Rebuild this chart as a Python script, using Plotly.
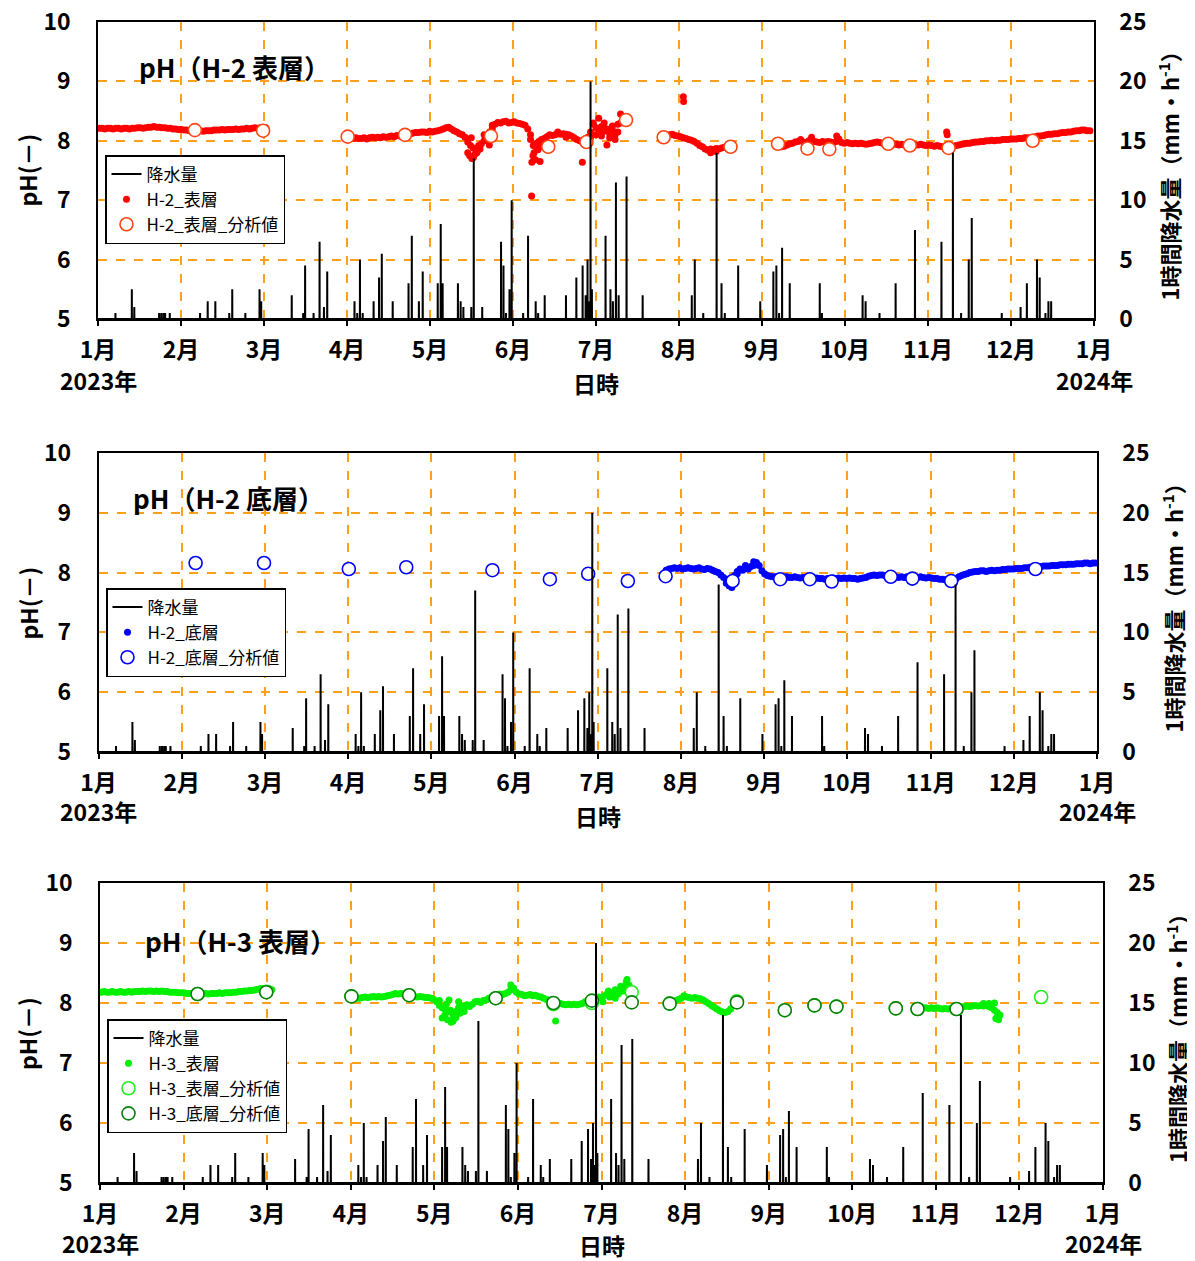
import pandas as pd
import plotly.graph_objects as go

# ------------------------------------------------------------------ data
YEAR_START = "2023-01-01"
MONTH_LABELS = ["1月", "2月", "3月", "4月", "5月", "6月", "7月", "8月", "9月", "10月", "11月", "12月", "1月"]

# hourly precipitation events (day of year, mm/h)
RAIN_DOY = [6.4, 12.4, 13.3, 22.4, 23.2, 24.0, 24.6, 26.3, 37.4, 40.2, 43.0, 48.1, 49.2, 54.0, 59.2, 59.8,
            71.0, 75.2, 75.9, 79.0, 81.2, 82.8, 84.0, 94.0, 95.0, 96.0, 97.0, 101.0, 103.0, 104.0, 108.0,
            113.8, 115.0, 117.6, 119.0, 124.5, 125.6, 126.3, 131.9, 132.9, 133.9, 136.8, 137.7, 140.8,
            147.7, 148.6, 149.5, 150.8, 151.6, 155.8, 157.6, 160.4, 161.3, 163.7, 171.5, 175.3, 177.6,
            178.7, 179.4, 180.1, 180.5, 181.0, 186.0, 187.8, 188.7, 189.8, 190.8, 193.7, 199.6, 217.6,
            218.7, 221.8, 226.7, 228.5, 229.7, 234.6, 242.7, 247.5, 248.6, 249.6, 250.7, 253.5, 264.5,
            265.3, 280.2, 281.3, 286.4, 292.3, 299.4, 309.1, 313.3, 316.3, 319.1, 320.2, 331.2, 338.1,
            340.4, 344.1, 345.1, 347.2, 348.3, 349.3]
RAIN_MM = [0.5, 2.5, 1.0, 0.5, 0.5, 0.5, 0.5, 0.5, 0.5, 1.5, 1.5, 0.5, 2.5, 0.5, 2.5, 1.5,
           2.0, 0.5, 4.5, 0.5, 6.5, 1.0, 4.0, 1.5, 0.5, 5.0, 0.5, 1.5, 3.5, 5.5, 1.5,
           3.0, 7.0, 1.5, 4.0, 3.0, 8.0, 3.0, 3.0, 1.5, 1.0, 1.0, 13.5, 1.0,
           6.5, 4.5, 0.5, 2.5, 10.0, 0.5, 7.0, 1.5, 0.5, 2.0, 2.0, 3.5, 4.5,
           2.0, 5.0, 1.5, 20.0, 2.5, 7.0, 2.5, 1.5, 11.5, 2.0, 12.0, 2.0, 2.0,
           5.0, 0.5, 14.0, 3.0, 0.5, 4.5, 1.5, 4.0, 4.5, 0.5, 6.0, 3.0, 3.0,
           0.5, 2.0, 1.5, 0.5, 3.0, 7.5, 6.5, 14.0, 0.5, 5.0, 8.5, 0.5, 1.0,
           3.0, 5.0, 3.5, 0.5, 1.5, 1.5]

# analysis (laboratory) sampling days, day of year
ANALYSIS_DOY = [35.5, 60.5, 91.5, 112.5, 144.0, 165.0, 179.0, 193.5, 207.3, 231.8, 249.2, 260.0,
                268.0, 289.6, 297.5, 311.7, 342.5]
H2_SURF_ANALYSIS = [8.18, 8.17, 8.07, 8.10, 8.08, 7.90, 7.98, 8.35, 8.06, 7.90, 7.95, 7.87, 7.86,
                    7.95, 7.92, 7.88, 8.00]
H2_BOTT_ANALYSIS = [8.16, 8.16, 8.06, 8.09, 8.04, 7.89, 7.98, 7.86, 7.94, 7.86, 7.89, 7.89, 7.85,
                    7.93, 7.90, 7.86, 8.06]
H3_SURF_ANALYSIS = [8.15, 8.18, 8.11, 8.13, 8.08, 7.98, 8.00, 8.18, 7.99, 8.03, 7.88, 7.96, 7.94,
                    7.91, 7.90, 7.90, 8.10]
H3_BOTT_ANALYSIS = [8.15, 8.18, 8.11, 8.13, 8.08, 8.00, 8.04, 8.01, 7.99, 8.01, 7.88, 7.96, 7.94,
                    7.91, 7.90, 7.90, None]

# continuous (daily) pH, H-2 surface
H2S_SEG1_START = 0
H2S_SEG1 = [8.21, 8.21, 8.20, 8.21, 8.21, 8.20, 8.21, 8.21, 8.20, 8.21,
            8.21, 8.20, 8.21, 8.21, 8.22, 8.22, 8.21, 8.22, 8.23, 8.23,
            8.24, 8.23, 8.23, 8.22, 8.22, 8.21, 8.21, 8.20, 8.20, 8.19,
            8.19, 8.18, 8.18, 8.17, 8.17, 8.17, 8.18, 8.17, 8.16, 8.17,
            8.17, 8.17, 8.18, 8.18, 8.18, 8.19, 8.18, 8.19, 8.19, 8.19,
            8.20, 8.19, 8.20, 8.20, 8.21, 8.20, 8.21, 8.22, 8.21, 8.22,
            8.22, 8.22]
H2S_SEG2_START = 91
H2S_SEG2 = [8.07, 8.06, 8.04, 8.05, 8.04, 8.04, 8.05, 8.03, 8.05, 8.06,
            8.05, 8.06, 8.05, 8.07, 8.06, 8.07, 8.08, 8.07, 8.09, 8.08,
            8.10, 8.11, 8.12, 8.12, 8.13, 8.14, 8.14, 8.15, 8.15, 8.14,
            8.16, 8.15, 8.16, 8.17, 8.18, 8.20, 8.22, 8.23, 8.20, 8.17,
            8.15, 8.12, 8.10, 8.06, 7.98, 7.92, 7.88, 7.85, 7.92, 7.95,
            8.00, 8.05, 8.15, 8.26, 8.28, 8.31, 8.30, 8.32, 8.33, 8.30,
            8.31, 8.32, 8.30, 8.29, 8.28, 8.26, 8.20, 8.10, 7.92, 7.95,
            7.99, 8.02, 8.04, 8.07, 8.10, 8.09, 8.10, 8.12, 8.11, 8.12,
            8.11, 8.10, 8.08, 8.05, 8.02, 8.00, 7.98, 8.02, 8.06, 8.15,
            8.28, 8.22, 8.18, 8.24, 8.16, 8.20, 8.12, 8.18, 8.10, 8.15,
            8.30, 8.40]
H2S_SEG3_START = 209
H2S_SEG3 = [8.10, 8.11, 8.09, 8.08, 8.07, 8.05, 8.04, 8.02, 8.01, 7.99, 7.96, 7.92,
            7.90, 7.86, 7.84, 7.86, 7.85, 7.87, 7.86, 7.88, 7.89, 7.90]
H2S_SEG4_START = 250
H2S_SEG4 = [7.90, 7.91, 7.93, 7.95, 7.96, 7.98, 7.99, 8.02, 7.98, 7.97,
            8.00, 8.06, 7.99, 7.98, 7.97, 7.99, 7.98, 7.99, 7.98, 7.97,
            7.99, 8.03, 7.97, 7.96, 7.97, 7.96, 7.95, 7.96, 7.95, 7.96,
            7.95, 7.94, 7.95, 7.96, 7.97, 7.98, 7.97, 7.96, 7.95, 7.96,
            7.95, 7.94, 7.94, 7.93, 7.94, 7.93, 7.94, 7.93, 7.94, 7.93,
            7.93, 7.94, 7.93, 7.92, 7.93, 7.92, 7.91, 7.92, 7.91, 7.90,
            7.90, 7.89, 7.90, 7.91, 7.92, 7.93, 7.94, 7.95, 7.96, 7.96,
            7.97, 7.98, 7.98, 7.99, 7.99, 8.00, 8.00, 8.01, 8.00, 8.01,
            8.01, 8.02, 8.02, 8.02, 8.03, 8.03, 8.03, 8.04, 8.04, 8.05,
            8.05, 8.05, 8.06, 8.07, 8.08, 8.08, 8.09, 8.10, 8.11, 8.11,
            8.12, 8.12, 8.13, 8.14, 8.14, 8.15, 8.15, 8.16, 8.17, 8.17,
            8.18, 8.18, 8.17, 8.17]
H2S_EXTRA_DOY = [135.5, 136.2, 137.0, 137.6, 138.3, 139.0, 136.8, 138.8, 140.0, 143.4, 159.0, 159.4,
                 159.8, 160.3, 161.2, 162.0, 162.6, 177.5, 158.9, 186.5, 183.5, 191.5, 214.5, 214.6,
                 311.0, 311.2, 270.7, 180.5, 181.5, 182.5, 184.5, 185.5, 187.5, 188.5, 189.5, 190.5,
                 141.5, 142.5, 144.5, 158.5, 160.8, 168.5, 171.5, 224.5, 226.5]
H2S_EXTRA = [7.80, 7.75, 7.70, 7.72, 7.78, 7.82, 8.05, 7.80, 7.86, 7.93, 7.64, 7.75,
             7.80, 7.68, 7.85, 7.65, 7.90, 7.64, 7.07, 7.93, 8.38, 8.45, 8.74, 8.66,
             8.15, 8.10, 8.08, 8.05, 8.30, 8.10, 8.08, 8.30, 8.05, 8.25, 8.02, 8.28,
             8.10, 8.02, 8.20, 8.02, 7.88, 8.15, 8.06, 7.80, 7.82]

# continuous (daily) pH, H-2 bottom
H2B_SEG1_START = 207
H2B_SEG1 = [8.04, 8.06, 8.07, 8.08, 8.07, 8.08, 8.06, 8.07, 8.08, 8.07,
            8.06, 8.07, 8.08, 8.06, 8.05, 8.07, 8.06, 8.04, 8.02, 8.00,
            7.96, 7.92, 7.88, 7.85, 7.87, 7.92, 8.02, 8.06, 8.04, 8.08,
            8.06, 8.10, 8.12, 8.17, 8.12, 8.03, 7.98, 7.95, 7.94, 7.93,
            7.93, 7.92, 7.93, 7.92, 7.93, 7.92, 7.92, 7.93, 7.92, 7.91,
            7.92, 7.91, 7.92, 7.91, 7.90, 7.91, 7.90, 7.90, 7.89, 7.90,
            7.90, 7.91, 7.90, 7.91, 7.90, 7.91, 7.90, 7.91, 7.90, 7.90,
            7.89, 7.90, 7.91, 7.92, 7.94, 7.95, 7.96, 7.95, 7.96, 7.96,
            7.95, 7.94, 7.93, 7.92, 7.93, 7.92, 7.93, 7.92, 7.93, 7.92,
            7.93, 7.92, 7.92, 7.93, 7.92, 7.91, 7.92, 7.91, 7.90, 7.90,
            7.89, 7.89, 7.88, 7.89, 7.88, 7.89, 7.90, 7.93, 7.95, 7.97,
            7.98, 8.00, 8.01, 8.02, 8.02, 8.03, 8.03, 8.02, 8.03, 8.04,
            8.03, 8.04, 8.04, 8.05, 8.05, 8.06, 8.06, 8.06, 8.07, 8.07,
            8.07, 8.08, 8.08, 8.09, 8.09, 8.10, 8.10, 8.10, 8.11, 8.11,
            8.11, 8.12, 8.12, 8.12, 8.13, 8.13, 8.13, 8.14, 8.14, 8.14,
            8.15, 8.15, 8.15, 8.16, 8.16, 8.15, 8.16, 8.16]
H2B_EXTRA_DOY = [229.5, 230.5, 231.5, 239.5, 240.5, 232.5, 233.5, 236.5]
H2B_EXTRA = [7.82, 7.78, 7.75, 8.18, 8.15, 7.95, 7.98, 8.12]

# continuous (daily) pH, H-3 surface
H3S_SEG1_START = 0
H3S_SEG1 = [8.18, 8.19, 8.18, 8.18, 8.19, 8.18, 8.18, 8.19, 8.18, 8.18,
            8.19, 8.18, 8.19, 8.19, 8.19, 8.20, 8.19, 8.20, 8.20, 8.19,
            8.20, 8.19, 8.20, 8.19, 8.19, 8.18, 8.18, 8.18, 8.17, 8.17,
            8.17, 8.16, 8.16, 8.16, 8.15, 8.16, 8.16, 8.15, 8.16, 8.15,
            8.16, 8.16, 8.16, 8.17, 8.16, 8.17, 8.17, 8.17, 8.18, 8.18,
            8.19, 8.19, 8.20, 8.20, 8.21, 8.21, 8.22, 8.23, 8.24, 8.24,
            8.25, 8.24, 8.22]
H3S_SEG2_START = 91
H3S_SEG2 = [8.10, 8.09, 8.08, 8.08, 8.09, 8.10, 8.09, 8.10, 8.11, 8.10,
            8.11, 8.10, 8.11, 8.12, 8.13, 8.14, 8.16, 8.15, 8.16, 8.15,
            8.14, 8.13, 8.12, 8.11, 8.10, 8.11, 8.10, 8.09, 8.09, 8.08,
            8.06, 8.02, 7.96, 7.92, 7.90, 7.85, 7.88, 7.80, 7.86, 7.92,
            7.95, 7.92, 7.97, 7.94, 7.98, 8.02, 8.03, 8.01, 8.04, 8.05,
            8.08, 8.10, 8.13, 8.14, 8.15, 8.14, 8.16, 8.18, 8.22, 8.25,
            8.18, 8.15, 8.14, 8.12, 8.13, 8.14, 8.12, 8.13, 8.11, 8.10,
            8.08, 8.06, 8.05, 8.04, 8.02, 8.00, 7.99, 7.98, 7.97, 7.98,
            7.97, 7.98, 7.97, 7.98, 7.99, 8.02, 8.04, 8.05, 8.06, 8.04,
            8.10, 8.08, 8.12, 8.15, 8.10, 8.18, 8.22, 8.15, 8.28, 8.26,
            8.35, 8.30]
H3S_SEG3_START = 207
H3S_SEG3 = [8.02, 8.03, 8.04, 8.06, 8.08, 8.12, 8.10, 8.09, 8.08, 8.09, 8.08, 8.07, 8.05,
            8.02, 7.99, 7.96, 7.93, 7.90, 7.87, 7.85, 7.84, 7.86, 7.90, 7.96, 8.01]
H3S_SEG4_START = 298
H3S_SEG4 = [7.93, 7.92, 7.92, 7.91, 7.92, 7.91, 7.92, 7.91, 7.90, 7.91,
            7.90, 7.91, 7.90, 7.91, 7.92, 7.93, 7.94, 7.95, 7.94, 7.95,
            7.96, 7.95, 7.96, 7.95, 7.96, 7.94, 7.92, 7.88, 7.84, 7.80]
H3S_EXTRA_DOY = [124.5, 126.5, 127.8, 128.5, 129.5, 125.5, 131.0, 127.0, 165.8, 191.8, 190.5,
                 325.5, 326.0, 326.5, 327.0, 123.5, 126.0, 130.5, 132.5, 183.0, 185.0, 187.5,
                 189.0, 149.5, 321.5, 323.5]
H3S_EXTRA = [7.75, 7.72, 7.68, 7.70, 7.76, 7.80, 7.83, 8.05, 7.70, 8.39, 8.20,
             8.00, 7.74, 7.76, 7.72, 8.04, 7.98, 8.02, 7.86, 8.02, 8.20, 8.08,
             8.18, 8.30, 7.99, 7.99]

# ------------------------------------------------------------------ helpers
T0 = pd.Timestamp(YEAR_START)


def ts(d):
    return T0 + pd.Timedelta(days=float(d))


def daily(start, vals):
    return [ts(start + i + 0.5) for i in range(len(vals))], list(vals)


def series(segments, extra_doy, extra_vals):
    xs, ys = [], []
    for start, vals in segments:
        x, y = daily(start, vals)
        xs += x
        ys += y
    xs += [ts(d) for d in extra_doy]
    ys += list(extra_vals)
    return xs, ys


def rain_series():
    xs, ys = [ts(0)], [0.0]
    for d, v in zip(RAIN_DOY, RAIN_MM):
        xs += [ts(d - 0.03), ts(d), ts(d + 0.03)]
        ys += [0.0, v, 0.0]
    xs.append(ts(365))
    ys.append(0.0)
    return xs, ys


H2S_X, H2S_Y = series([(H2S_SEG1_START, H2S_SEG1), (H2S_SEG2_START, H2S_SEG2),
                       (H2S_SEG3_START, H2S_SEG3), (H2S_SEG4_START, H2S_SEG4)],
                      H2S_EXTRA_DOY, H2S_EXTRA)
H2B_X, H2B_Y = series([(H2B_SEG1_START, H2B_SEG1)], H2B_EXTRA_DOY, H2B_EXTRA)
H3S_X, H3S_Y = series([(H3S_SEG1_START, H3S_SEG1), (H3S_SEG2_START, H3S_SEG2),
                       (H3S_SEG3_START, H3S_SEG3), (H3S_SEG4_START, H3S_SEG4)],
                      H3S_EXTRA_DOY, H3S_EXTRA)
RAIN_X, RAIN_Y = rain_series()
AN_X = [ts(d) for d in ANALYSIS_DOY]

# ------------------------------------------------------------------ figure
PAGE_OFF = 8                     # default body margin of the html page
W, H = 1195 - PAGE_OFF, 1261 - PAGE_OFF
FONT = "Noto Sans CJK JP"
ORANGE = "#FF9F1A"


def px_x(v):
    return (v - PAGE_OFF) / W


def px_y(v):
    return 1 - (v - PAGE_OFF) / H


charts = [
    dict(xdom=(98, 1094), ydom=(22, 319), title="pH（H-2 表層）", title_xy=(137, 67),
         legend_xy=(105, 155), year_y=380, nichiji_y=383, left_t=26, right_t=1168,
         traces=[
             dict(name="H-2_表層", x=H2S_X, y=H2S_Y, kind="dot", color="#FF0000"),
             dict(name="H-2_表層_分析値", x=AN_X, y=H2_SURF_ANALYSIS, kind="circle", color="#FF4515"),
         ]),
    dict(xdom=(98.5, 1097), ydom=(453, 752), title="pH（H-2 底層）", title_xy=(131, 497),
         legend_xy=(106, 588), year_y=811, nichiji_y=816, left_t=27, right_t=1172,
         traces=[
             dict(name="H-2_底層", x=H2B_X, y=H2B_Y, kind="dot", color="#0000FF"),
             dict(name="H-2_底層_分析値", x=AN_X, y=H2_BOTT_ANALYSIS, kind="circle", color="#0000FF"),
         ]),
    dict(xdom=(100, 1103), ydom=(883, 1183), title="pH（H-3 表層）", title_xy=(143, 941),
         legend_xy=(107, 1019), year_y=1243, nichiji_y=1245, left_t=27, right_t=1176,
         traces=[
             dict(name="H-3_表層", x=H3S_X, y=H3S_Y, kind="dot", color="#00F000"),
             dict(name="H-3_表層_分析値", x=AN_X, y=H3_SURF_ANALYSIS, kind="circle", color="#22EE22"),
             dict(name="H-3_底層_分析値", x=AN_X, y=H3_BOTT_ANALYSIS, kind="circle", color="#0A7F0A"),
         ]),
]

tickvals = [T0 + pd.Timedelta(days=365 * k / 12) for k in range(13)]
fig = go.Figure()
annotations = []
layout = {}
TICKFONT = dict(family=FONT, size=23, color="black", weight="bold")
LABFONT = dict(family=FONT, size=23, color="black", weight="bold")
RTFONT = dict(family=FONT, size=22, color="black", weight="bold")

for k, c in enumerate(charts, start=1):
    xr = "x" if k == 1 else f"x{k}"
    xname = "xaxis" if k == 1 else f"xaxis{k}"
    ya, yb = 2 * k - 1, 2 * k
    yra = "y" if ya == 1 else f"y{ya}"
    yname_a = "yaxis" if ya == 1 else f"yaxis{ya}"
    yrb = f"y{yb}"
    yname_b = f"yaxis{yb}"
    leg = "legend" if k == 1 else f"legend{k}"

    fig.add_trace(go.Scatter(x=RAIN_X, y=RAIN_Y, mode="lines", name="降水量",
                             line=dict(color="black", width=2), xaxis=xr, yaxis=yrb,
                             legend=leg, hoverinfo="skip"))
    for t in c["traces"]:
        if t["kind"] == "dot":
            marker = dict(color=t["color"], size=7, line=dict(width=0))
        else:
            marker = dict(color="white", size=13, symbol="circle",
                          line=dict(color=t["color"], width=1.6))
        fig.add_trace(go.Scatter(x=t["x"], y=t["y"], mode="markers", name=t["name"],
                                 marker=marker, xaxis=xr, yaxis=yra, legend=leg,
                                 hoverinfo="skip"))

    x0, x1 = c["xdom"]
    ytop, ybot = c["ydom"]
    layout[xname] = dict(
        domain=[px_x(x0), px_x(x1)], anchor=yra, type="date", automargin=False,
        range=[T0, T0 + pd.Timedelta(days=365)],
        tickmode="array", tickvals=tickvals, ticktext=MONTH_LABELS,
        showgrid=True, gridcolor=ORANGE, griddash="dash", gridwidth=1.5,
        showline=True, linecolor="black", linewidth=2, mirror=True,
        ticks="outside", ticklen=5, tickwidth=1.5, tickcolor="black",
        tickfont=TICKFONT, ticklabelstandoff=4, ticklabeloverflow="allow",
        zeroline=False, fixedrange=True)
    layout[yname_a] = dict(
        domain=[px_y(ybot), px_y(ytop)], anchor=xr, range=[5, 10], tick0=5, dtick=1,
        automargin=False, ticklabeloverflow="allow",
        showgrid=True, gridcolor=ORANGE, griddash="dash", gridwidth=1.5,
        showline=True, linecolor="black", linewidth=1.5, mirror=True,
        ticks="", tickfont=TICKFONT, ticklabelstandoff=21, zeroline=False, fixedrange=True)
    layout[yname_b] = dict(
        overlaying=yra, anchor=xr, side="right", range=[0, 25], tick0=0, dtick=5,
        automargin=False, ticklabeloverflow="allow",
        showgrid=False, showline=True, linecolor="black", linewidth=1.5,
        ticks="", tickfont=TICKFONT, ticklabelstandoff=19, zeroline=False, fixedrange=True)

    lx, ly = c["legend_xy"]
    layout[leg] = dict(x=px_x(lx), y=px_y(ly), xanchor="left", yanchor="top",
                       bgcolor="white", bordercolor="black", borderwidth=1.5,
                       font=dict(family=FONT, size=17, color="black"),
                       tracegroupgap=0, itemwidth=30, traceorder="normal")

    tx, ty = c["title_xy"]
    annotations.append(dict(text=c["title"], x=px_x(tx), y=px_y(ty), xref="paper",
                            yref="paper", xanchor="left", yanchor="middle", showarrow=False,
                            font=dict(family=FONT, size=26, color="black", weight="bold")))
    ymid = (ytop + ybot) / 2
    annotations.append(dict(text="pH(－)", x=px_x(c["left_t"]), y=px_y(ymid), xref="paper",
                            yref="paper", xanchor="center", yanchor="middle", textangle=-90,
                            showarrow=False, font=LABFONT))
    annotations.append(dict(text="1時間降水量（mm・h<sup>-1</sup>）", x=px_x(c["right_t"]),
                            y=px_y(ymid), xref="paper", yref="paper", xanchor="center",
                            yanchor="middle", textangle=-90, showarrow=False, font=RTFONT))
    annotations.append(dict(text="2023年", x=px_x(x0), y=px_y(c["year_y"]), xref="paper",
                            yref="paper", xanchor="center", yanchor="middle", showarrow=False,
                            font=LABFONT))
    annotations.append(dict(text="2024年", x=px_x(x1), y=px_y(c["year_y"]), xref="paper",
                            yref="paper", xanchor="center", yanchor="middle", showarrow=False,
                            font=LABFONT))
    annotations.append(dict(text="日時", x=px_x((x0 + x1) / 2), y=px_y(c["nichiji_y"]),
                            xref="paper", yref="paper", xanchor="center", yanchor="middle",
                            showarrow=False, font=LABFONT))

fig.update_layout(width=W, height=H, autosize=False,
                  margin=dict(l=0, r=0, t=0, b=0, autoexpand=False),
                  paper_bgcolor="white", plot_bgcolor="white", showlegend=True,
                  font=dict(family=FONT, color="black"), annotations=annotations, **layout)

fig.write_html("out.html")
